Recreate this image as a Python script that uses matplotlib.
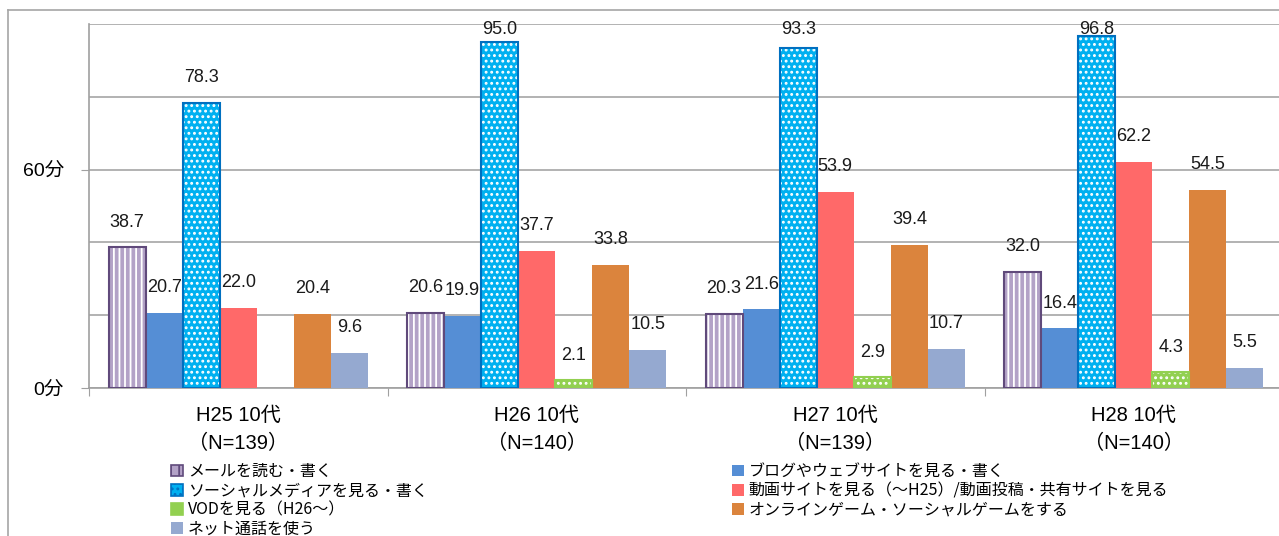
import matplotlib.pyplot as plt
import numpy as np
from matplotlib.patches import Patch
from matplotlib.lines import Line2D

plt.rcParams['font.family'] = ['Liberation Sans', 'Noto Sans CJK JP', 'DejaVu Sans']
plt.rcParams['hatch.linewidth'] = 1.3

# 調査年ごとの区分
groups = ['H25 10代\n（N=139）', 'H26 10代\n（N=140）', 'H27 10代\n（N=139）', 'H28 10代\n（N=140）']

# 項目名
series = [
    'メールを読む・書く',
    'ブログやウェブサイトを見る・書く',
    'ソーシャルメディアを見る・書く',
    '動画サイトを見る（～H25）/動画投稿・共有サイトを見る',
    'VODを見る（H26～）',
    'オンラインゲーム・ソーシャルゲームをする',
    'ネット通話を使う',
]

# 平均利用時間（分）
mail = [38.7, 20.6, 20.3, 32.0]
blog = [20.7, 19.9, 21.6, 16.4]
social = [78.3, 95.0, 93.3, 96.8]
video = [22.0, 37.7, 53.9, 62.2]
vod = [np.nan, 2.1, 2.9, 4.3]  # H25は調査項目なし
game = [20.4, 33.8, 39.4, 54.5]
netcall = [9.6, 10.5, 10.7, 5.5]

values = [mail, blog, social, video, vod, game, netcall]

# 塗り・ハッチ・枠線
styles = [
    dict(face='#b3a2c7', hatch='|||', hatch_col='white', edge='#604a7b'),
    dict(face='#558ed5', hatch=None, hatch_col=None, edge=None),
    dict(face='#00b0f0', hatch='...', hatch_col='white', edge='#0070c0'),
    dict(face='#ff6969', hatch=None, hatch_col=None, edge=None),
    dict(face='#92d050', hatch='...', hatch_col='white', edge='#92d050'),
    dict(face='#db843d', hatch=None, hatch_col=None, edge=None),
    dict(face='#95a9d0', hatch=None, hatch_col=None, edge=None),
]

W, H = 1279, 536
fig = plt.figure(figsize=(W / 100, H / 100), dpi=100)
ax = fig.add_axes([89 / W, 1 - 388 / H, (1283 - 89) / W, (388 - 24) / H])

x = np.arange(len(groups))
bw = 37 / 298
n = len(series)

for k, (vals, st) in enumerate(zip(values, styles)):
    xs = x + (k - (n - 1) / 2) * bw
    v = np.array(vals, dtype=float)
    ok = ~np.isnan(v)
    if st['hatch']:
        ax.bar(xs[ok], v[ok], bw, color=st['face'], hatch=st['hatch'],
               edgecolor=st['hatch_col'], linewidth=0, zorder=3)
        ax.bar(xs[ok], v[ok], bw, facecolor='none', edgecolor=st['edge'],
               linewidth=1.5, zorder=4)
    else:
        ax.bar(xs[ok], v[ok], bw, color=st['face'], linewidth=0, zorder=3)
    # 数値ラベル（上端付近は枠内に収める）
    for xi, vi in zip(xs[ok], v[ok]):
        ax.text(xi, min(vi + 6.9, 98.6), f'{vi:.1f}', ha='center', va='center',
                fontsize=13, color='#1a1a1a', zorder=5)

ax.set_xlim(-0.5, len(groups) - 0.5)
ax.set_ylim(0, 100)

# 縦軸：0分と60分のみ表示、罫線は20分ごと
ax.set_yticks([0, 60])
ax.set_yticklabels(['0分', '60分'], fontsize=14)
ax.set_yticks([20, 40, 80, 100], minor=True)
ax.tick_params(axis='y', which='major', length=6, color='#a0a0a0', pad=12)
ax.tick_params(axis='y', which='minor', length=0)
ax.grid(axis='y', which='both', color='#a6a6a6', linewidth=1.2, zorder=0)

# 横軸：区切りに目盛、ラベルは中央
ax.set_xticks(np.arange(len(groups)) - 0.5)
ax.set_xticklabels([])
ax.set_xticks(x, minor=True)
ax.set_xticklabels(groups, minor=True, fontsize=14.5, linespacing=1.6)
ax.tick_params(axis='x', which='major', length=6, direction='out', color='#a0a0a0')
ax.tick_params(axis='x', which='minor', length=0, pad=13)

for side in ['top', 'right']:
    ax.spines[side].set_visible(False)
for side in ['left', 'bottom']:
    ax.spines[side].set_color('#a0a0a0')
    ax.spines[side].set_linewidth(1.2)

# 凡例
def handle(st):
    if st['hatch']:
        return Patch(facecolor=st['face'], hatch=st['hatch'].replace('|||', '||'),
                     edgecolor=st['edge'], linewidth=1.2)
    return Patch(facecolor=st['face'], linewidth=0)

leg_font = dict(family=['Noto Sans CJK JP', 'DejaVu Sans'], size=11.5)
left_idx = [0, 2, 4, 6]
right_idx = [1, 3, 5]
leg_kw = dict(frameon=False, borderpad=0, borderaxespad=0, handlelength=0.75,
              handleheight=0.75, handletextpad=0.3, labelspacing=0.14, prop=leg_font)
leg1 = fig.legend([handle(styles[i]) for i in left_idx], [series[i] for i in left_idx],
                  loc='upper left', bbox_to_anchor=(171 / W, 1 - 463 / H), **leg_kw)
leg2 = fig.legend([handle(styles[i]) for i in right_idx], [series[i] for i in right_idx],
                  loc='upper left', bbox_to_anchor=(732 / W, 1 - 463 / H), **leg_kw)

# グラフエリアの枠
fig.add_artist(Line2D([8 / W, 8 / W], [0, 1 - 10 / H], color='#a6a6a6', linewidth=1.2))
fig.add_artist(Line2D([8 / W, 1], [1 - 10 / H, 1 - 10 / H], color='#a6a6a6', linewidth=1.2))

fig.savefig('out.png', dpi=100)
